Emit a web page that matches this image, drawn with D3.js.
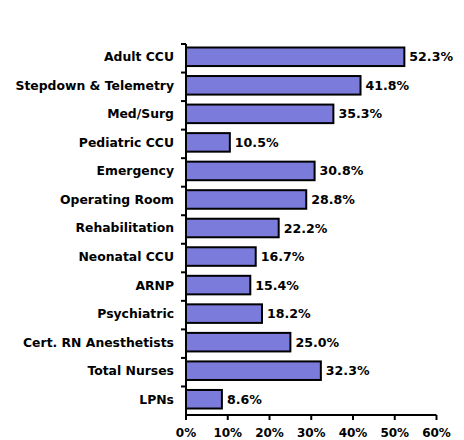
<!DOCTYPE html>
<html>
<head>
<meta charset="utf-8">
<script src="https://cdn.jsdelivr.net/npm/d3@7"></script>
<style>
  body { margin: 0; background: #fff; }
  text { font-family: "DejaVu Sans", Verdana, sans-serif; font-weight: bold; fill: #000; }
</style>
</head>
<body>
<script>
var categories = ["Adult CCU", "Stepdown & Telemetry", "Med/Surg", "Pediatric CCU", "Emergency",
  "Operating Room", "Rehabilitation", "Neonatal CCU", "ARNP", "Psychiatric",
  "Cert. RN Anesthetists", "Total Nurses", "LPNs"];
var values = [52.3, 41.8, 35.3, 10.5, 30.8, 28.8, 22.2, 16.7, 15.4, 18.2, 25.0, 32.3, 8.6];
var xTicks = [0, 10, 20, 30, 40, 50, 60];

var svg_width = 464;
var svg_height = 440;
var margin = { top: 44, right: 28, bottom: 25, left: 186 };
var width = svg_width - margin.left - margin.right;
var height = svg_height - margin.top - margin.bottom;

var svg = d3.select("body").append("svg")
  .attr("width", svg_width)
  .attr("height", svg_height);

var chartGroup = svg.append("g")
  .attr("transform", `translate(${margin.left}, ${margin.top})`);

var x = d3.scaleLinear().domain([0, 60]).range([0, 250.5]);
var y = d3.scaleBand().domain(categories).range([0, height]);

// bars
var bh = y.bandwidth() * 0.65;
chartGroup.selectAll("rect.bar")
  .data(categories)
  .enter()
  .append("rect")
  .attr("class", "bar")
  .attr("x", 0)
  .attr("y", d => y(d) + 3.5)
  .attr("width", (d, i) => x(values[i]))
  .attr("height", bh)
  .attr("fill", "#7b7bdc")
  .attr("stroke", "#000")
  .attr("stroke-width", 2);

// value labels
chartGroup.selectAll("text.val")
  .data(categories)
  .enter()
  .append("text")
  .attr("class", "val")
  .attr("x", (d, i) => x(values[i]) + 5)
  .attr("y", d => y(d) + 3.5 + bh / 2)
  .attr("dy", "0.36em")
  .style("font-size", "12.6px")
  .text((d, i) => values[i].toFixed(1) + "%");

// y axis
var yAxis = chartGroup.append("g");
yAxis.append("line")
  .attr("x1", 0).attr("x2", 0)
  .attr("y1", 0).attr("y2", height)
  .attr("stroke", "#000").attr("stroke-width", 2);
yAxis.selectAll("line.tick")
  .data(categories)
  .enter()
  .append("line")
  .attr("class", "tick")
  .attr("x1", -5).attr("x2", 0)
  .attr("y1", d => y(d)).attr("y2", d => y(d))
  .attr("stroke", "#000").attr("stroke-width", 2);
yAxis.selectAll("text")
  .data(categories)
  .enter()
  .append("text")
  .attr("x", -12)
  .attr("y", d => y(d) + 3.5 + bh / 2)
  .attr("dy", "0.36em")
  .attr("text-anchor", "end")
  .style("font-size", "12.4px")
  .text(d => d);

// x axis
var xAxis = chartGroup.append("g")
  .attr("transform", `translate(0, ${height})`);
xAxis.append("line")
  .attr("x1", 0).attr("x2", x(60))
  .attr("stroke", "#000").attr("stroke-width", 2);
xAxis.selectAll("line.tick")
  .data(xTicks)
  .enter()
  .append("line")
  .attr("class", "tick")
  .attr("x1", d => x(d)).attr("x2", d => x(d))
  .attr("y1", 0).attr("y2", 5)
  .attr("stroke", "#000").attr("stroke-width", 2);
xAxis.selectAll("text")
  .data(xTicks)
  .enter()
  .append("text")
  .attr("x", d => x(d))
  .attr("y", 22)
  .attr("text-anchor", "middle")
  .style("font-size", "12px")
  .text(d => d + "%");
</script>
</body>
</html>
